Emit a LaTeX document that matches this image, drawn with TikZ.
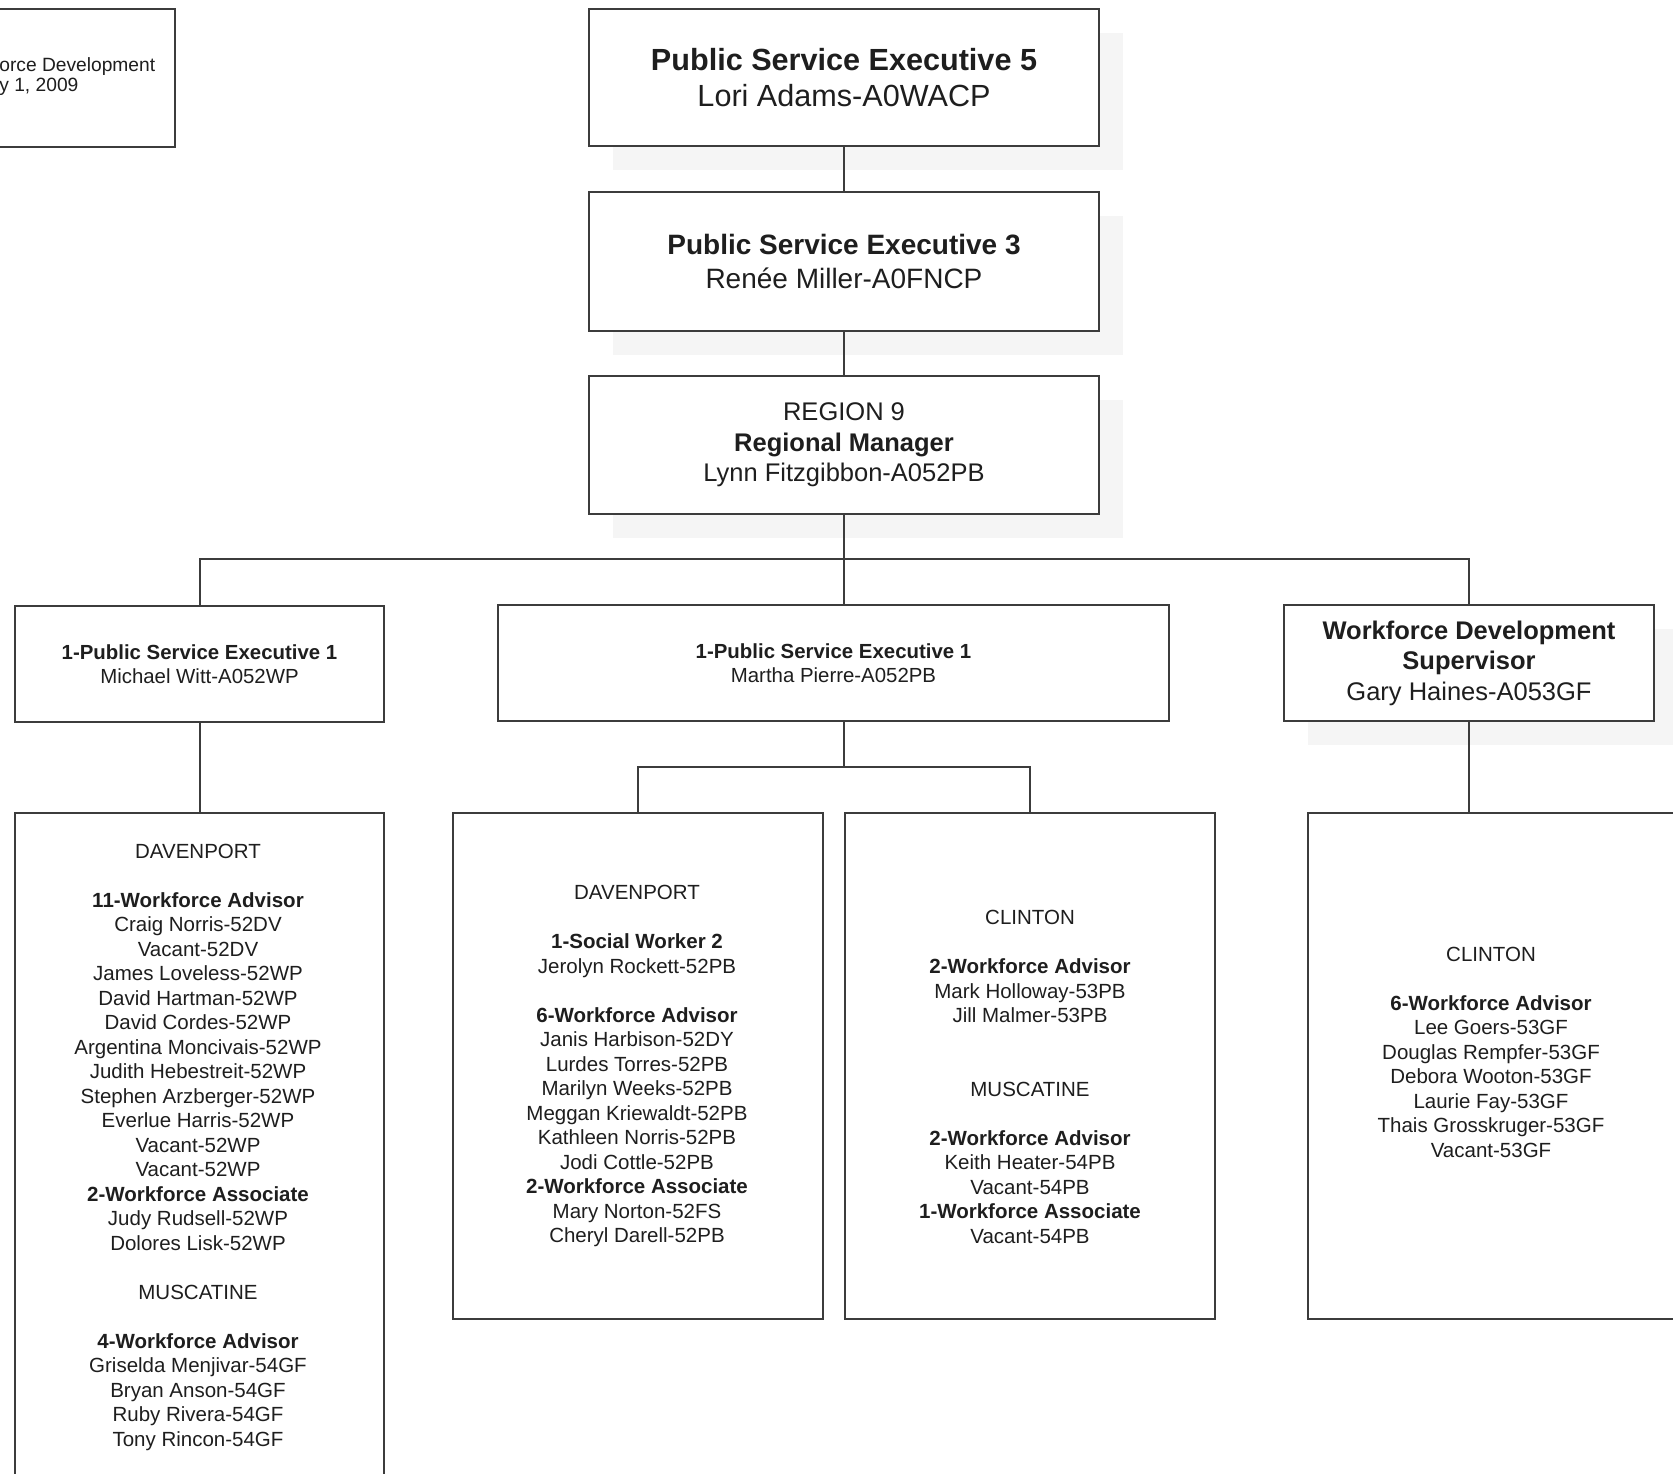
\documentclass[tikz,border=0pt]{standalone}
\usepackage{fontspec}
\setmainfont{Liberation Sans}
\usetikzlibrary{shadows}
\definecolor{ink}{HTML}{1E1E1E}
\definecolor{rule}{HTML}{3C3C3C}
\newcommand{\gap}{\\[12.25pt]}

\begin{document}
\begin{tikzpicture}[x=0.5pt,y=-0.5pt,
  box/.style={draw=rule,line width=1pt,fill=white,inner sep=0pt,align=center,text=ink},
  lift/.style={drop shadow={shadow xshift=12pt,shadow yshift=-12pt,fill=black!4,opacity=1}},
  link/.style={draw=rule,line width=1pt},
  exec5/.style={font=\fontsize{15.3}{18}\selectfont},
  exec3/.style={font=\fontsize{14}{17}\selectfont},
  head/.style={font=\fontsize{12.75}{15.25}\selectfont},
  unit/.style={font=\fontsize{10.2}{12}\selectfont},
  staff/.style={align=center,inner sep=0pt,text=ink,font=\fontsize{10.25}{12.25}\selectfont}]
\useasboundingbox (0,0) rectangle (1673,1473);
\clip (0,0) rectangle (1673,1473);
\node[box,minimum width=97.5pt,minimum height=69pt] (note) at (77.5,78) {};
\node[anchor=west,align=left,inner sep=0pt,text=ink,font=\fontsize{9.6}{10}\selectfont] (notetext) at (-1,77) {orce Development\\y 1, 2009};
\node[box,lift,exec5,minimum width=255pt,minimum height=68.5pt] (pse5) at (844,77.5) {\textbf{Public Service Executive 5}\\Lori Adams-A0WACP};
\node[box,lift,exec3,minimum width=255pt,minimum height=69.5pt] (pse3) at (844,261.5) {\textbf{Public Service Executive 3}\\Renée Miller-A0FNCP};
\node[box,lift,head,minimum width=255pt,minimum height=69pt] (rm) at (844,445) {REGION 9\\\textbf{Regional Manager}\\Lynn Fitzgibbon-A052PB};
\node[box,unit,minimum width=184.5pt,minimum height=58pt] (lpse) at (199.5,664) {\textbf{1-Public Service Executive 1}\\Michael Witt-A052WP};
\node[box,unit,minimum width=335.5pt,minimum height=58pt] (mpse) at (833.5,663) {\textbf{1-Public Service Executive 1}\\Martha Pierre-A052PB};
\node[box,lift,head,minimum width=185pt,minimum height=58pt] (wds) at (1469,663) {\textbf{Workforce Development}\\\textbf{Supervisor}\\Gary Haines-A053GF};
\node[box,minimum width=184.5pt,minimum height=350pt] (ldav) at (199.5,1163) {};
\node[box,minimum width=185pt,minimum height=253pt] (mdav) at (638,1066) {};
\node[box,minimum width=185pt,minimum height=253pt] (mcli) at (1030,1066) {};
\node[box,minimum width=185pt,minimum height=253pt] (rcli) at (1493,1066) {};
\node[staff] (ldavtext) at (198,1147) {DAVENPORT\gap
\textbf{11-Workforce Advisor}\\Craig Norris-52DV\\Vacant-52DV\\James Loveless-52WP\\David Hartman-52WP\\David Cordes-52WP\\Argentina Moncivais-52WP\\Judith Hebestreit-52WP\\Stephen Arzberger-52WP\\Everlue Harris-52WP\\Vacant-52WP\\Vacant-52WP\\
\textbf{2-Workforce Associate}\\Judy Rudsell-52WP\\Dolores Lisk-52WP\gap
MUSCATINE\gap
\textbf{4-Workforce Advisor}\\Griselda Menjivar-54GF\\Bryan Anson-54GF\\Ruby Rivera-54GF\\Tony Rincon-54GF};
\node[staff] (mdavtext) at (637,1066) {DAVENPORT\gap
\textbf{1-Social Worker 2}\\Jerolyn Rockett-52PB\gap
\textbf{6-Workforce Advisor}\\Janis Harbison-52DY\\Lurdes Torres-52PB\\Marilyn Weeks-52PB\\Meggan Kriewaldt-52PB\\Kathleen Norris-52PB\\Jodi Cottle-52PB\\
\textbf{2-Workforce Associate}\\Mary Norton-52FS\\Cheryl Darell-52PB};
\node[staff] (mclitext) at (1030,1077) {CLINTON\gap
\textbf{2-Workforce Advisor}\\Mark Holloway-53PB\\Jill Malmer-53PB\\[24.5pt]
MUSCATINE\gap
\textbf{2-Workforce Advisor}\\Keith Heater-54PB\\Vacant-54PB\\
\textbf{1-Workforce Associate}\\Vacant-54PB};
\node[staff] (rclitext) at (1491,1052) {CLINTON\gap
\textbf{6-Workforce Advisor}\\Lee Goers-53GF\\Douglas Rempfer-53GF\\Debora Wooton-53GF\\Laurie Fay-53GF\\Thais Grosskruger-53GF\\Vacant-53GF};
\coordinate (bus) at (844,559);
\draw[link] (pse5)--(pse3);\draw[link] (pse3)--(rm);\draw[link] (rm)--(bus);
\draw[link] (lpse.north) |- (bus) -| (wds.north);
\draw[link] (bus)--(bus |- mpse.north);
\draw[link] (lpse)--(ldav);
\draw[link] (wds.south)--(wds.south |- rcli.north);
\draw[link] (mpse.south -| bus)--++(0,45) coordinate (split);
\draw[link] (mdav.north) |- (split) -| (mcli.north);
\end{tikzpicture}
\end{document}
